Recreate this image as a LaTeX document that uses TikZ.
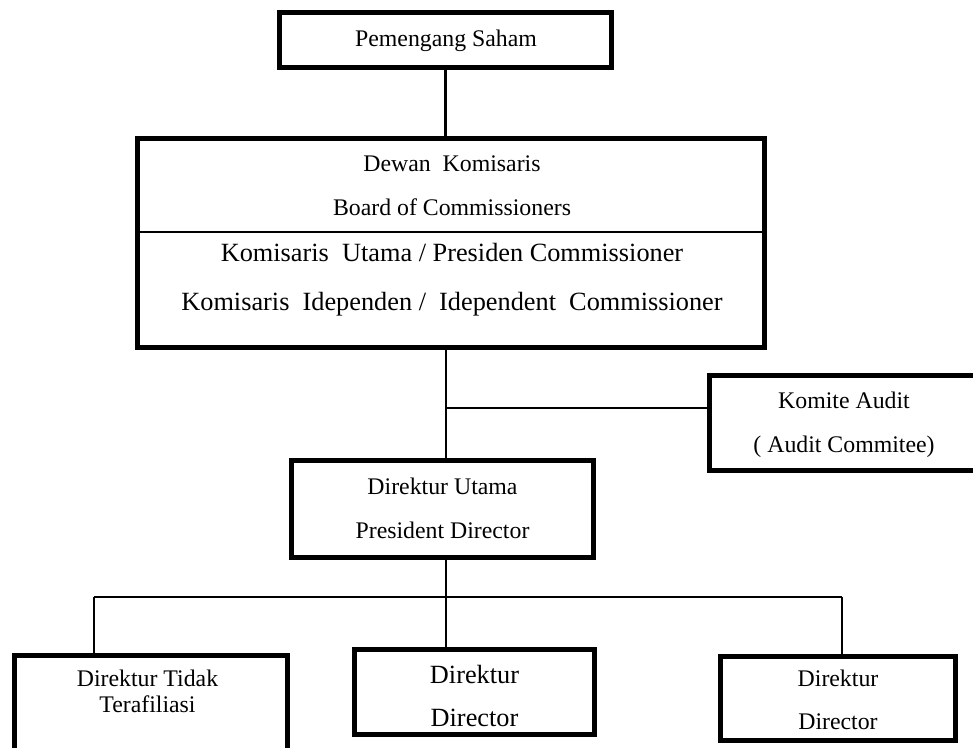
\documentclass[tikz,border=0pt]{standalone}
\usepackage{fontspec}
\setmainfont{Liberation Serif}
\newcommand\txtreg{\fontsize{23.8pt}{28pt}\selectfont}
\newcommand\txtbig{\fontsize{26.3pt}{31pt}\selectfont}
\tikzset{
  orgbox/.style={draw=black, line width=5pt, inner sep=0pt, fill=white},
  conn/.style={draw=black, line width=2.2pt},
  lblreg/.style={inner sep=0pt, font=\txtreg, text height=15.7pt, text depth=0pt, anchor=center},
  lblbig/.style={inner sep=0pt, font=\txtbig, text height=17.4pt, text depth=0pt, anchor=center},
}
\begin{document}
\begin{tikzpicture}[x=1pt, y=-1pt]
  \useasboundingbox (0,0) rectangle (973,747);
  \fill[white] (0,0) rectangle (973,747);
  \clip (0,0) rectangle (973,747);

  % boxes (outer edges include the 5pt border)
  \node[orgbox, minimum width=332pt, minimum height=55pt]  (ps) at (445.5,40) {};
  \node[orgbox, minimum width=627pt, minimum height=209pt] (dk) at (451,243) {};
  \node[orgbox, minimum width=269pt, minimum height=95pt]  (ka) at (844,423) {};
  \node[orgbox, minimum width=302pt, minimum height=97pt]  (du) at (442.5,509) {};
  \node[orgbox, minimum width=273pt, minimum height=131pt] (d1) at (151,721) {};
  \node[orgbox, minimum width=240pt, minimum height=85pt]  (d2) at (474.5,692) {};
  \node[orgbox, minimum width=235pt, minimum height=84pt]  (d3) at (838,698.5) {};

  % divider inside the board box
  \coordinate (divy) at (0,232);
  \draw[conn] (dk.west |- divy) -- (dk.east |- divy);

  % junction points of the connectors
  \coordinate (kaj)  at (446,408);
  \coordinate (bus)  at (446,597);
  \coordinate (busL) at (94,597);
  \coordinate (busR) at (842,597);

  % connectors
  \draw[conn] (ps.south) -- (ps.south |- dk.north);
  \draw[conn] (dk.south -| kaj) -- (du.north -| kaj);
  \draw[conn] (kaj) -- (ka.west |- kaj);
  \draw[conn] (du.south -| bus) -- (bus);
  \draw[conn] (busL) -- (busR);
  \draw[conn] (busL) -- (busL |- d1.north);
  \draw[conn] (bus) -- (bus |- d2.north);
  \draw[conn] (busR) -- (busR |- d3.north);

  % texts
  \node[lblreg] (tps)  at (446,38.5) {Pemengang Saham};
  \node[lblreg] (tdk1) at (452,164) {Dewan\ \ Komisaris};
  \node[lblreg] (tdk2) at (452,208) {Board of Commissioners};
  \node[lblbig] (tdk3) at (452,253) {Komisaris\ \ Utama / Presiden Commissioner};
  \node[lblbig] (tdk4) at (452,302) {Komisaris\ \ Idependen /\ \ Idependent\ \ Commissioner};
  \node[lblreg] (tka1) at (844,401) {Komite Audit};
  \node[lblreg] (tka2) at (844,445) {( Audit Commitee)};
  \node[lblreg] (tdu1) at (442.5,487) {Direktur Utama};
  \node[lblreg] (tdu2) at (442.5,530.5) {President Director};
  \node[lblreg] (td11) at (147.5,679) {Direktur Tidak};
  \node[lblreg] (td12) at (147.5,705) {Terafiliasi};
  \node[lblbig] (td21) at (474.5,675) {Direktur};
  \node[lblbig] (td22) at (474.5,718) {Director};
  \node[lblreg] (td31) at (838,679) {Direktur};
  \node[lblreg] (td32) at (838,722) {Director};
\end{tikzpicture}
\end{document}
